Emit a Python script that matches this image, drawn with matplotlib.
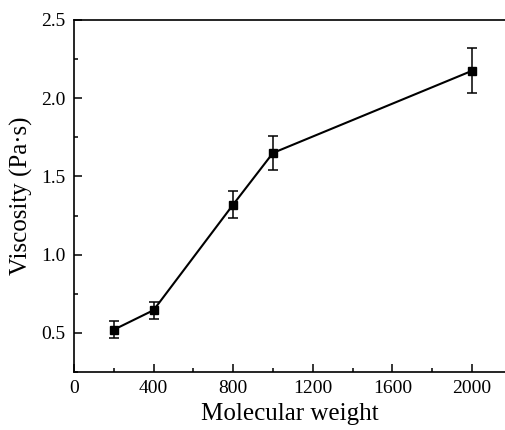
import matplotlib.pyplot as plt
from matplotlib.ticker import MultipleLocator, FormatStrFormatter

# data
mol_weight = [200, 400, 800, 1000, 2000]
viscosity = [0.52, 0.645, 1.32, 1.65, 2.175]
visc_err = [0.055, 0.055, 0.088, 0.108, 0.144]

plt.rcParams["font.family"] = ["Liberation Serif", "DejaVu Serif"]

fig = plt.figure(figsize=(5.05, 4.30), dpi=100)
ax = fig.add_axes([0.1465, 0.135, 0.853, 0.8185])

ax.plot(mol_weight, viscosity, color="black", lw=1.5, zorder=2)
ax.errorbar(mol_weight, viscosity, yerr=visc_err, fmt="s", color="black",
            ms=6, capsize=3.5, elinewidth=1.1, capthick=1.1, zorder=3)

ax.set_xlim(0, 2165)
ax.set_ylim(0.25, 2.5)
ax.xaxis.set_major_locator(MultipleLocator(400))
ax.xaxis.set_minor_locator(MultipleLocator(200))
ax.yaxis.set_major_locator(MultipleLocator(0.5))
ax.yaxis.set_minor_locator(MultipleLocator(0.25))
ax.yaxis.set_major_formatter(FormatStrFormatter("%.1f"))

ax.spines["right"].set_visible(False)
for s in ["left", "bottom", "top"]:
    ax.spines[s].set_linewidth(1.2)
ax.tick_params(which="both", direction="in", labelsize=14, width=1.1)
ax.tick_params(which="major", length=6, pad=6)
ax.tick_params(which="minor", length=3)

ax.set_xlabel("Molecular weight", fontsize=18, labelpad=4)
ax.set_ylabel("Viscosity (Pa·s)", fontsize=18, labelpad=6)

fig.savefig("out.png", dpi=100)
